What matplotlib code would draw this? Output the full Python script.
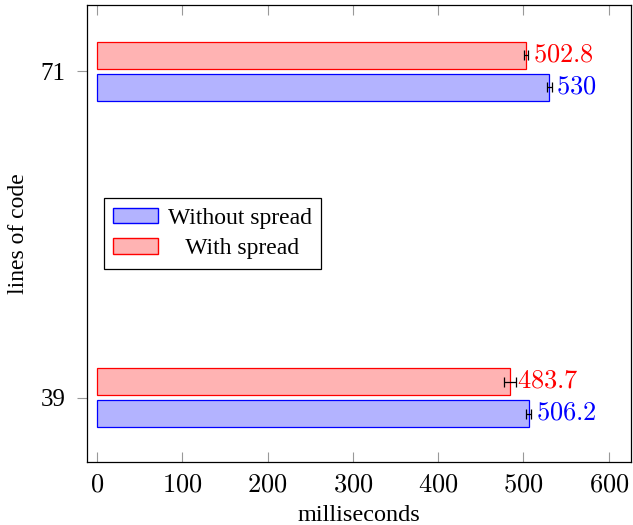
import matplotlib.pyplot as plt
from matplotlib.patches import Patch

plt.rcParams['mathtext.fontset'] = 'cm'
plt.rcParams['font.family'] = ['Liberation Serif', 'DejaVu Serif']

# data
lines_of_code = [39, 71]
without_spread = [506.2, 530.0]
without_err = [3.0, 3.0]
with_spread = [483.7, 502.8]
with_err = [7.0, 2.0]

blue_fill = (0.7, 0.7, 1.0)
red_fill = (1.0, 0.7, 0.7)
offset = 1.57
height = 2.65

fig = plt.figure(figsize=(6.33, 5.25), dpi=100)
ax = fig.add_axes([0.1374, 0.12, 0.8594, 0.8705])

for y, v, e in zip(lines_of_code, without_spread, without_err):
    ax.barh(y - offset, v, height=height, color=blue_fill, edgecolor='blue', linewidth=0.9)
    ax.errorbar(v, y - offset, xerr=e, fmt='none', ecolor='black', elinewidth=0.9, capsize=3.5, capthick=0.9)
    ax.text(v + 8.5, y - offset, '$%g$' % v, color='blue', fontsize=19, va='center', ha='left')

for y, v, e in zip(lines_of_code, with_spread, with_err):
    ax.barh(y + offset, v, height=height, color=red_fill, edgecolor='red', linewidth=0.9)
    ax.errorbar(v, y + offset, xerr=e, fmt='none', ecolor='black', elinewidth=0.9, capsize=3.5, capthick=0.9)
    ax.text(v + 8.5, y + offset, '$%g$' % v, color='red', fontsize=19, va='center', ha='left')

ax.set_xlim(-11.7, 626)
ax.set_ylim(32.7, 77.5)

xticks = [0, 100, 200, 300, 400, 500, 600]
ax.set_xticks(xticks)
ax.set_xticklabels(['$%d$' % t for t in xticks], fontsize=19)
ax.set_yticks(lines_of_code)
ax.set_yticklabels([str(t) for t in lines_of_code], fontsize=18)

ax.tick_params(axis='x', direction='in', top=True, bottom=True, length=7, color='0.6', width=0.8, pad=9)
ax.tick_params(axis='y', direction='out', left=True, right=False, length=7.5, color='0.6', width=0.8, pad=8)

for s in ax.spines.values():
    s.set_linewidth(0.9)

ax.set_xlabel('milliseconds', fontsize=17.5, labelpad=6)
ax.set_ylabel('lines of code', fontsize=17, labelpad=8)

handles = [Patch(facecolor=blue_fill, edgecolor='blue', label='Without spread'),
           Patch(facecolor=red_fill, edgecolor='red', label='   With spread')]
leg = ax.legend(handles=handles, loc='center left', bbox_to_anchor=(0.031, 0.5), fontsize=17,
                frameon=True, fancybox=False, edgecolor='black', framealpha=1, borderaxespad=0,
                handlelength=1.9, handleheight=0.65, borderpad=0.4, labelspacing=0.4, handletextpad=0.4)
leg.get_frame().set_linewidth(0.9)

fig.savefig('out.png', dpi=100)
